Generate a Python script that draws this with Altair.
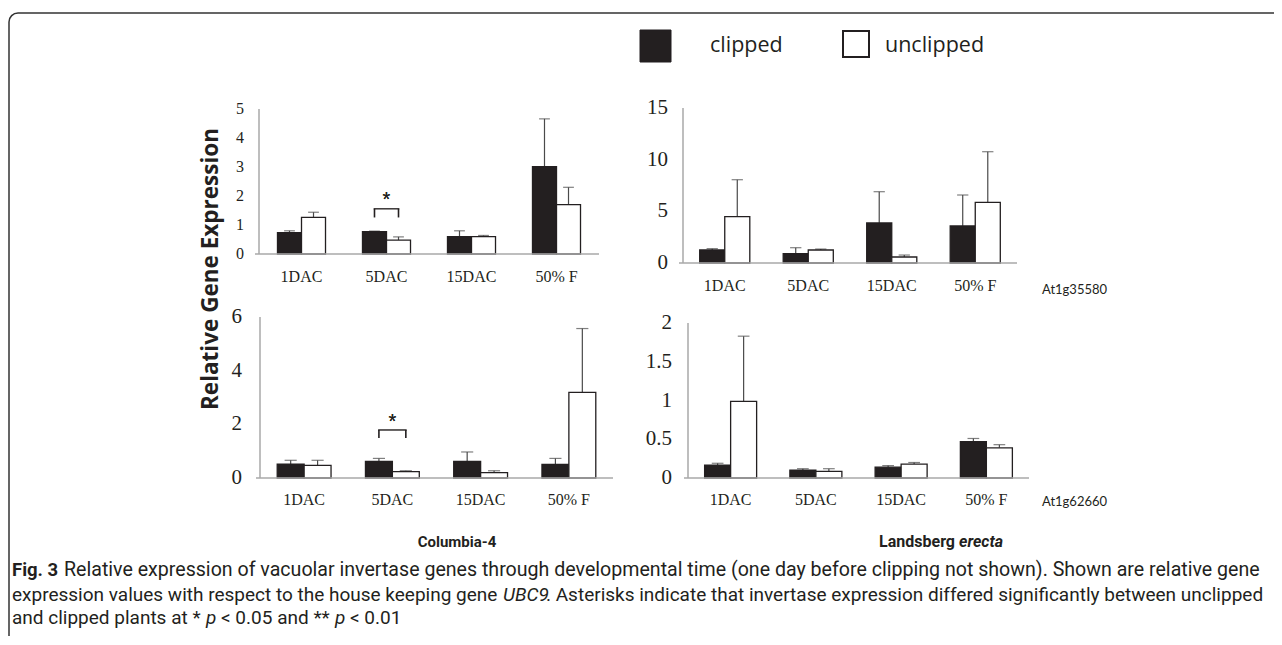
import altair as alt
import pandas as pd

categories = ["1DAC", "5DAC", "15DAC", "50% F"]
groups = ["clipped", "unclipped"]

# Columbia-4, At1g35580 (top left)
col_a_clipped = [0.74, 0.77, 0.60, 3.01]
col_a_clipped_err = [0.06, 0.02, 0.20, 1.65]
col_a_unclipped = [1.26, 0.48, 0.60, 1.70]
col_a_unclipped_err = [0.18, 0.11, 0.04, 0.60]
col_a_ticks = [0, 1, 2, 3, 4, 5]
col_a_tick_labels = ["0", "1", "2", "3", "4", "5"]

# Landsberg erecta, At1g35580 (top right)
ler_a_clipped = [1.26, 0.90, 3.87, 3.58]
ler_a_clipped_err = [0.13, 0.58, 3.03, 3.00]
ler_a_unclipped = [4.48, 1.26, 0.58, 5.87]
ler_a_unclipped_err = [3.58, 0.09, 0.19, 4.90]
ler_a_ticks = [0, 5, 10, 15]
ler_a_tick_labels = ["0", "5", "10", "15"]

# Columbia-4, At1g62660 (bottom left)
col_b_clipped = [0.52, 0.62, 0.62, 0.51]
col_b_clipped_err = [0.14, 0.11, 0.35, 0.22]
col_b_unclipped = [0.47, 0.24, 0.20, 3.19]
col_b_unclipped_err = [0.19, 0.03, 0.07, 2.38]
col_b_ticks = [0, 2, 4, 6]
col_b_tick_labels = ["0", "2", "4", "6"]

# Landsberg erecta, At1g62660 (bottom right)
ler_b_clipped = [0.167, 0.10, 0.14, 0.47]
ler_b_clipped_err = [0.023, 0.02, 0.02, 0.04]
ler_b_unclipped = [0.99, 0.086, 0.18, 0.39]
ler_b_unclipped_err = [0.84, 0.034, 0.02, 0.04]
ler_b_ticks = [0, 0.5, 1, 1.5, 2]
ler_b_tick_labels = ["0", "0.5", "1", "1.5", "2"]

# significance brackets: category, bracket level, leg bottom, asterisk level
col_a_sig = ["5DAC", 1.56, 1.26, 1.86]
col_b_sig = ["5DAC", 1.79, 1.49, 2.08]

INK = "#231f20"
ERR = "#4a4a4a"
AXIS = "#a8a8a8"
SERIF = "Liberation Serif"
SANS = "Open Sans"
CAP_FONT = "Roboto"


def one_row():
    return alt.Chart(pd.DataFrame({"k": [0]}))


def panel(clipped, c_err, unclipped, u_err, ymax, ticks, tick_labels,
          xrange, yrange, pad, label_x, cat_y, tick_size, sig=None):
    rows = []
    for i, c in enumerate(categories):
        rows.append({"cat": c, "grp": "clipped", "value": clipped[i],
                     "upper": clipped[i] + c_err[i]})
        rows.append({"cat": c, "grp": "unclipped", "value": unclipped[i],
                     "upper": unclipped[i] + u_err[i]})
    df = pd.DataFrame(rows)
    xs = alt.Scale(domain=categories, range=xrange, paddingInner=pad,
                   paddingOuter=pad / 2)
    ys = alt.Scale(domain=[0, ymax], range=yrange, nice=False, zero=True)
    xo = alt.Scale(domain=groups)
    step = (xrange[1] - xrange[0]) / len(categories)
    bar_w = step * (1 - pad) / 2

    X = alt.X("cat:N", scale=xs, axis=None)
    XO = alt.XOffset("grp:N", scale=xo)
    base = alt.Chart(df)

    xaxis = one_row().mark_rule(color=AXIS, strokeWidth=1.5).encode(
        x=alt.value(xrange[0] - 4), x2=alt.value(xrange[1]),
        y=alt.value(yrange[0]))
    yaxis = one_row().mark_rule(color=AXIS, strokeWidth=1.5).encode(
        x=alt.value(xrange[0]), y=alt.value(yrange[0]), y2=alt.value(yrange[1]))

    errs = base.mark_rule(color=ERR, strokeWidth=1.2).encode(
        x=X, xOffset=XO,
        y=alt.Y("value:Q", scale=ys, axis=None), y2="upper:Q")
    caps = base.mark_tick(color=ERR, thickness=1.2, size=bar_w * 0.45).encode(
        x=X, xOffset=XO, y=alt.Y("upper:Q", scale=ys, axis=None))
    bars = base.mark_bar(stroke=INK, strokeWidth=1.3).encode(
        x=X, xOffset=XO,
        y=alt.Y("value:Q", scale=ys, axis=None, stack=None),
        fill=alt.Fill("grp:N", scale=alt.Scale(domain=groups,
                                               range=[INK, "#ffffff"]),
                      legend=None))
    tdf = pd.DataFrame({"v": ticks, "t": tick_labels})
    tlab = alt.Chart(tdf).mark_text(
        align="right", baseline="middle", font=SERIF, fontSize=tick_size,
        color=INK).encode(x=alt.value(label_x),
                          y=alt.Y("v:Q", scale=ys, axis=None), text="t:N")
    cdf = pd.DataFrame({"cat": categories})
    clab = alt.Chart(cdf).mark_text(
        align="center", baseline="middle", font=SERIF, fontSize=16,
        color=INK).encode(x=X, y=alt.value(cat_y), text="cat:N")
    layers = [errs, caps, bars, xaxis, yaxis, tlab, clab]
    if sig is not None:
        sdf = pd.DataFrame({"cat": [sig[0], sig[0]], "grp": groups,
                            "top": [sig[1], sig[1]], "bot": [sig[2], sig[2]],
                            "star": [sig[3], sig[3]]})
        sb = alt.Chart(sdf)
        legs = sb.mark_rule(color=INK, strokeWidth=1.6).encode(
            x=X, xOffset=XO, y=alt.Y("top:Q", scale=ys, axis=None), y2="bot:Q")
        hbar = sb.mark_tick(color=INK, thickness=1.3, size=bar_w + 1.5).encode(
            x=X, y=alt.Y("top:Q", scale=ys, axis=None))
        star = sb.mark_text(font="Liberation Sans", fontSize=20, color=INK,
                            baseline="middle").encode(
            x=X, y=alt.Y("star:Q", scale=ys, axis=None), text=alt.value("*"))
        layers += [legs, hbar, star]
    return alt.layer(*layers)


p_tl = panel(col_a_clipped, col_a_clipped_err, col_a_unclipped,
             col_a_unclipped_err, 5, col_a_ticks, col_a_tick_labels,
             [251, 591], [246, 101], 0.435, 236, 269, 16, col_a_sig)
p_tr = panel(ler_a_clipped, ler_a_clipped_err, ler_a_unclipped,
             ler_a_unclipped_err, 15, ler_a_ticks, ler_a_tick_labels,
             [675, 1009], [255, 100], 0.40, 660, 278, 21)
p_bl = panel(col_b_clipped, col_b_clipped_err, col_b_unclipped,
             col_b_unclipped_err, 6, col_b_ticks, col_b_tick_labels,
             [252, 605], [470, 309], 0.39, 234, 492, 21, col_b_sig)
p_br = panel(ler_b_clipped, ler_b_clipped_err, ler_b_unclipped,
             ler_b_unclipped_err, 2, ler_b_ticks, ler_b_tick_labels,
             [680, 1021], [470, 315], 0.39, 664, 492, 21)


def txt(s, x, y, size, font=SANS, weight="normal", style="normal",
        align="left", angle=0, color=INK):
    kw = dict(font=font, fontSize=size, fontWeight=weight, fontStyle=style,
              align=align, baseline="middle", color=color)
    if angle:
        kw["angle"] = angle
    return one_row().mark_text(**kw).encode(
        x=alt.value(x), y=alt.value(y), text=alt.value(s))


border = one_row().mark_rect(
    fill="transparent", stroke="#333333", strokeWidth=1.5, cornerRadius=9
).encode(x=alt.value(1), y=alt.value(5), x2=alt.value(1500), y2=alt.value(900))

leg_black = one_row().mark_rect(fill=INK, stroke=INK, strokeWidth=1).encode(
    x=alt.value(632), x2=alt.value(663), y=alt.value(22), y2=alt.value(54))
leg_white = one_row().mark_rect(fill="#ffffff", stroke=INK, strokeWidth=2).encode(
    x=alt.value(835), x2=alt.value(861), y=alt.value(23), y2=alt.value(49))

annotations = [
    border, leg_black, leg_white,
    txt("clipped", 702, 38, 21.5),
    txt("unclipped", 877, 38, 21.5),
    txt("Relative Gene Expression", 203, 261, 22.5, weight="bold", angle=270,
        align="center"),
    txt("At1g35580", 1034, 282, 13, font="Lato"),
    txt("At1g62660", 1034, 494, 13, font="Lato"),
    txt("Columbia-4", 449, 534, 15, font=CAP_FONT, weight="bold",
        align="center"),
    txt("Landsberg", 947, 534, 16, font=CAP_FONT, weight="bold",
        align="right"),
    txt("erecta", 951, 534, 16, font=CAP_FONT, weight="bold", style="italic"),
    # caption
    txt("Fig. 3", 4, 562, 18.5, font=CAP_FONT, weight="bold"),
    txt("Relative expression of vacuolar invertase genes through developmental "
        "time (one day before clipping not shown). Shown are relative gene",
        56, 562, 19.6, font=CAP_FONT),
    txt("expression values with respect to the house keeping gene", 4, 587, 19,
        font=CAP_FONT),
    txt("UBC9", 495, 587, 19, font=CAP_FONT, style="italic"),
    txt(". Asterisks indicate that invertase expression differed significantly "
        "between unclipped", 538, 587, 19, font=CAP_FONT),
    txt("and clipped plants at *", 4, 610, 19, font=CAP_FONT),
    txt("p", 198, 610, 19, font=CAP_FONT, style="italic"),
    txt("< 0.05 and **", 213, 610, 19, font=CAP_FONT),
    txt("p", 327, 610, 19, font=CAP_FONT, style="italic"),
    txt("< 0.01", 342, 610, 19, font=CAP_FONT),
]

chart = alt.layer(*annotations, p_tl, p_tr, p_bl, p_br).resolve_scale(
    x="independent", y="independent", xOffset="independent"
).properties(
    width=1266, height=628, autosize=alt.AutoSizeParams(type="none"),
    padding=0, background="#ffffff"
).configure_view(strokeWidth=0)

chart.save("out.html", embed_options={"renderer": "svg", "actions": False})
